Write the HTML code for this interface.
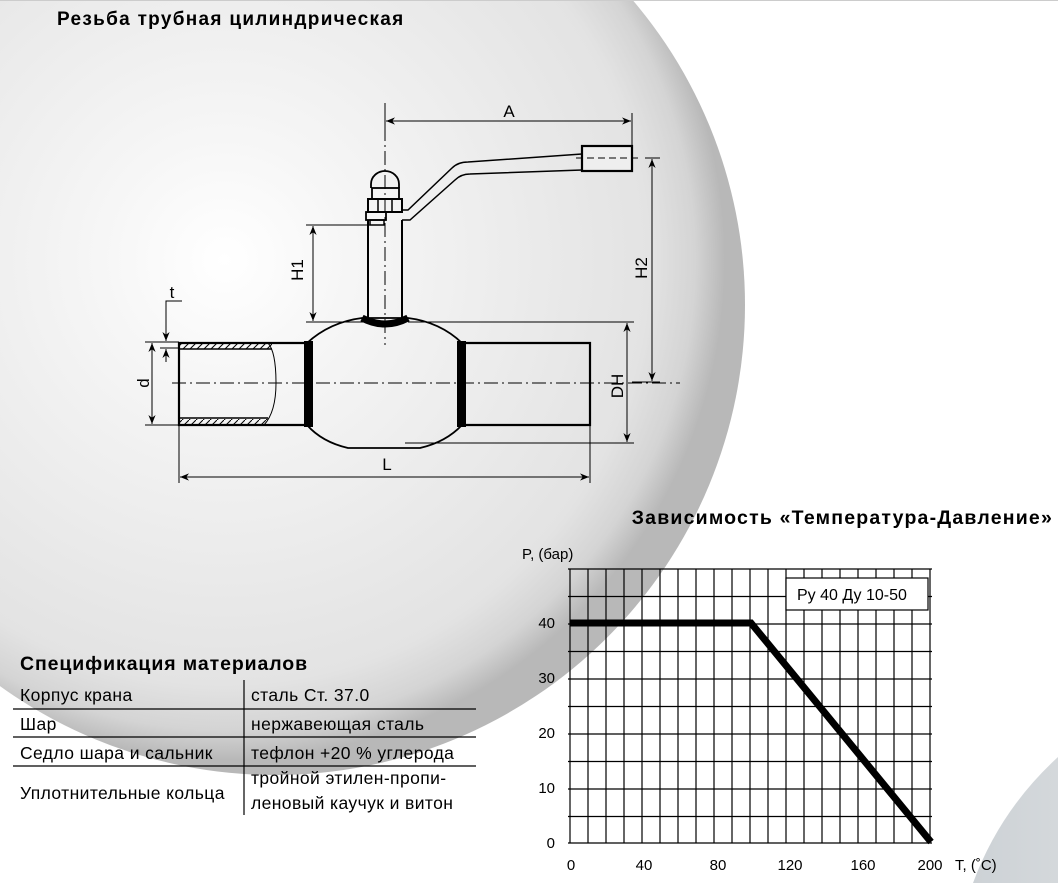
<!DOCTYPE html>
<html><head><meta charset="utf-8">
<style>
html,body{margin:0;padding:0;background:#fff;}
svg{display:block;font-family:"Liberation Sans","DejaVu Sans",sans-serif;}
</style></head>
<body>
<svg width="1058" height="883" viewBox="0 0 1058 883" xmlns="http://www.w3.org/2000/svg">
<defs>
<radialGradient id="bg" cx="225" cy="260" r="500" gradientUnits="userSpaceOnUse">
<stop offset="0" stop-color="#ffffff"/>
<stop offset="0.25" stop-color="#f6f6f6"/>
<stop offset="0.6" stop-color="#ebebeb"/>
<stop offset="0.85" stop-color="#e3e3e3"/>
<stop offset="0.94" stop-color="#d4d4d4"/>
<stop offset="1" stop-color="#b8b8b8"/>
</radialGradient>
<linearGradient id="br" x1="0" y1="0" x2="1" y2="0">
<stop offset="0" stop-color="#cdd2d6"/><stop offset="1" stop-color="#d4d8db"/>
</linearGradient>
<pattern id="hatch" width="7" height="7" patternUnits="userSpaceOnUse">
<line x1="0" y1="7" x2="7" y2="0" stroke="#000" stroke-width="1"/>
</pattern>
<marker id="ar" viewBox="0 0 10 10" refX="10" refY="5" markerWidth="9" markerHeight="9" orient="auto-start-reverse" markerUnits="userSpaceOnUse">
<path d="M0,1 L10,5 L0,9 L3,5 z" fill="#000"/>
</marker>
</defs>
<rect width="1058" height="883" fill="#fff"/>
<circle cx="275" cy="305" r="470" fill="url(#bg)"/>
<path d="M1058,757 Q1000,810 973,883 L1058,883 Z" fill="url(#br)"/>
<line x1="0" y1="0.5" x2="1058" y2="0.5" stroke="#ccc"/>

<text x="57" y="25" font-size="19" font-weight="bold" letter-spacing="1.3">Резьба трубная цилиндрическая</text>

<g stroke="#000" fill="none">
<line x1="385" y1="103" x2="385" y2="345" stroke-width="1" stroke-dasharray="14,4,2,4"/>
<line x1="172" y1="383" x2="680" y2="383" stroke-width="1" stroke-dasharray="14,4,2,4"/>
<line x1="385" y1="113" x2="385" y2="130" stroke-width="1"/>
<line x1="632" y1="113" x2="632" y2="148" stroke-width="1"/>
<line x1="386" y1="121" x2="631" y2="121" stroke-width="1" marker-start="url(#ar)" marker-end="url(#ar)"/>
<path d="M402,210 L408,210 L452,168 Q458,162 468,162 L582,154" stroke-width="1.5"/>
<path d="M402,220 L410,220 L455,180 Q461,174 470,174 L582,170" stroke-width="1.5"/>
<rect x="582" y="146" width="50" height="25" stroke-width="2.2" fill="#eee"/>
<line x1="576" y1="158" x2="640" y2="158" stroke-width="1" stroke-dasharray="7,4"/>
<path d="M371,188 L371,184 A14,13 0 0 1 399,184 L399,188" stroke-width="1.8"/>
<rect x="372" y="188" width="27" height="11" stroke-width="1.8"/>
<rect x="368" y="199" width="34" height="13" stroke-width="2"/>
<line x1="378" y1="199" x2="378" y2="212" stroke-width="1.5"/>
<line x1="392" y1="199" x2="392" y2="212" stroke-width="1.5"/>
<rect x="366" y="212" width="20" height="8" stroke-width="1.8"/>
<rect x="370" y="220" width="14" height="5" stroke-width="1.5"/>
<line x1="368" y1="220" x2="368" y2="318" stroke-width="2"/>
<line x1="402" y1="220" x2="402" y2="318" stroke-width="2"/>
<path d="M307,343 Q330,322 362,318 L408,318 Q440,322 462,343" stroke-width="1.8"/>
<path d="M307,425 Q322,442 348,448 L420,448 Q446,442 462,425" stroke-width="1.8"/>
<path d="M362,318 Q385,330 408,318" stroke="#000" stroke-width="7" />
<path d="M305,343 L179,343 L179,425 L305,425" stroke-width="2.2"/>
<path d="M464,343 L590,343 L590,425 L464,425" stroke-width="2.2"/>
<rect x="180" y="344" width="92" height="5" fill="url(#hatch)" stroke="none"/>
<rect x="180" y="419" width="88" height="5" fill="url(#hatch)" stroke="none"/>
<line x1="180" y1="349" x2="272" y2="349" stroke-width="1.5"/>
<line x1="180" y1="418" x2="268" y2="418" stroke-width="1.5"/>
<path d="M268,343 Q276,352 276,383 Q276,412 264,425" stroke-width="1"/>
</g>
<rect x="304" y="341" width="9" height="86" fill="#000"/>
<rect x="457" y="341" width="9" height="86" fill="#000"/>

<g stroke="#000" fill="none" stroke-width="1">
<line x1="306" y1="225" x2="370" y2="225"/>
<line x1="306" y1="322" x2="365" y2="322"/>
<line x1="313" y1="226" x2="313" y2="321" marker-start="url(#ar)" marker-end="url(#ar)"/>
<line x1="645" y1="158" x2="660" y2="158"/>
<line x1="632" y1="382" x2="660" y2="382"/>
<line x1="652" y1="159" x2="652" y2="381" marker-start="url(#ar)" marker-end="url(#ar)"/>
<line x1="408" y1="322" x2="634" y2="322"/>
<line x1="405" y1="443" x2="634" y2="443"/>
<line x1="627" y1="323" x2="627" y2="442" marker-start="url(#ar)" marker-end="url(#ar)"/>
<line x1="145" y1="342" x2="179" y2="342"/>
<line x1="145" y1="425" x2="179" y2="425"/>
<line x1="152" y1="343" x2="152" y2="424" marker-start="url(#ar)" marker-end="url(#ar)"/>
<polyline points="182,301 166,301 166,341"/>
<line x1="166" y1="320" x2="166" y2="341" marker-end="url(#ar)"/>
<line x1="166" y1="362" x2="166" y2="349" marker-end="url(#ar)"/>
<line x1="160" y1="348" x2="179" y2="348"/>
<line x1="179" y1="425" x2="179" y2="483"/>
<line x1="590" y1="425" x2="590" y2="483"/>
<line x1="180" y1="477" x2="589" y2="477" marker-start="url(#ar)" marker-end="url(#ar)"/>
</g>
<g font-size="17" fill="#000">
<text x="509" y="117" text-anchor="middle">A</text>
<text x="387" y="470" text-anchor="middle">L</text>
<text x="172" y="298" text-anchor="middle">t</text>
<text transform="translate(149,383) rotate(-90)" text-anchor="middle">d</text>
<text transform="translate(303,270) rotate(-90)" text-anchor="middle">H1</text>
<text transform="translate(647,268) rotate(-90)" text-anchor="middle">H2</text>
<text transform="translate(623,386) rotate(-90)" text-anchor="middle">DH</text>
</g>

<text x="1053" y="524" font-size="19.5" font-weight="bold" letter-spacing="1.2" text-anchor="end">Зависимость «Температура-Давление»</text>
<text x="522" y="559" font-size="15">P, (бар)</text>
<g stroke="#000" stroke-width="1.2">
<line x1="570" y1="569" x2="570" y2="843"/><line x1="588" y1="569" x2="588" y2="843"/><line x1="606" y1="569" x2="606" y2="843"/><line x1="624" y1="569" x2="624" y2="843"/><line x1="642" y1="569" x2="642" y2="843"/><line x1="660" y1="569" x2="660" y2="843"/><line x1="678" y1="569" x2="678" y2="843"/><line x1="696" y1="569" x2="696" y2="843"/><line x1="714" y1="569" x2="714" y2="843"/><line x1="732" y1="569" x2="732" y2="843"/><line x1="750" y1="569" x2="750" y2="843"/><line x1="768" y1="569" x2="768" y2="843"/><line x1="786" y1="569" x2="786" y2="843"/><line x1="804" y1="569" x2="804" y2="843"/><line x1="822" y1="569" x2="822" y2="843"/><line x1="840" y1="569" x2="840" y2="843"/><line x1="858" y1="569" x2="858" y2="843"/><line x1="876" y1="569" x2="876" y2="843"/><line x1="894" y1="569" x2="894" y2="843"/><line x1="912" y1="569" x2="912" y2="843"/><line x1="930" y1="569" x2="930" y2="843"/>
<line x1="568" y1="569" x2="932" y2="569"/><line x1="568" y1="596.5" x2="932" y2="596.5"/><line x1="568" y1="624" x2="932" y2="624"/><line x1="568" y1="651.5" x2="932" y2="651.5"/><line x1="568" y1="679" x2="932" y2="679"/><line x1="568" y1="706.5" x2="932" y2="706.5"/><line x1="568" y1="734" x2="932" y2="734"/><line x1="568" y1="761.5" x2="932" y2="761.5"/><line x1="568" y1="789" x2="932" y2="789"/><line x1="568" y1="816.5" x2="932" y2="816.5"/><line x1="568" y1="843" x2="932" y2="843"/>
</g>
<rect x="786" y="578" width="142" height="32" fill="#fff" stroke="#000" stroke-width="1.2"/>
<text x="797" y="600" font-size="16">Ру 40 Ду 10-50</text>
<polyline points="570,623 751,623 931,842" fill="none" stroke="#000" stroke-width="7"/>
<g font-size="15" text-anchor="end">
<text x="555" y="628">40</text><text x="555" y="683">30</text><text x="555" y="738">20</text><text x="555" y="793">10</text><text x="555" y="848">0</text>
</g>
<g font-size="15" text-anchor="middle">
<text x="571" y="870">0</text><text x="644" y="870">40</text><text x="718" y="870">80</text><text x="790" y="870">120</text><text x="863" y="870">160</text><text x="930" y="870">200</text>
</g>
<text x="955" y="870" font-size="15">T, (˚C)</text>

<text x="20" y="670" font-size="19.5" font-weight="bold" letter-spacing="0.9">Спецификация материалов</text>
<g stroke="#000" stroke-width="1.2">
<line x1="244" y1="680" x2="244" y2="815"/>
<line x1="13" y1="709" x2="476" y2="709"/>
<line x1="13" y1="737" x2="476" y2="737"/>
<line x1="13" y1="766" x2="476" y2="766"/>
</g>
<g font-size="17.5" letter-spacing="0.4">
<text x="20" y="701">Корпус крана</text><text x="251" y="701">сталь Ст. 37.0</text>
<text x="20" y="730">Шар</text><text x="251" y="730">нержавеющая сталь</text>
<text x="20" y="759">Седло шара и сальник</text><text x="251" y="759">тефлон +20 % углерода</text>
<text x="20" y="799">Уплотнительные кольца</text><text x="251" y="784">тройной этилен-пропи-</text>
<text x="251" y="809">леновый каучук и витон</text>
</g>
</svg>
</body></html>
